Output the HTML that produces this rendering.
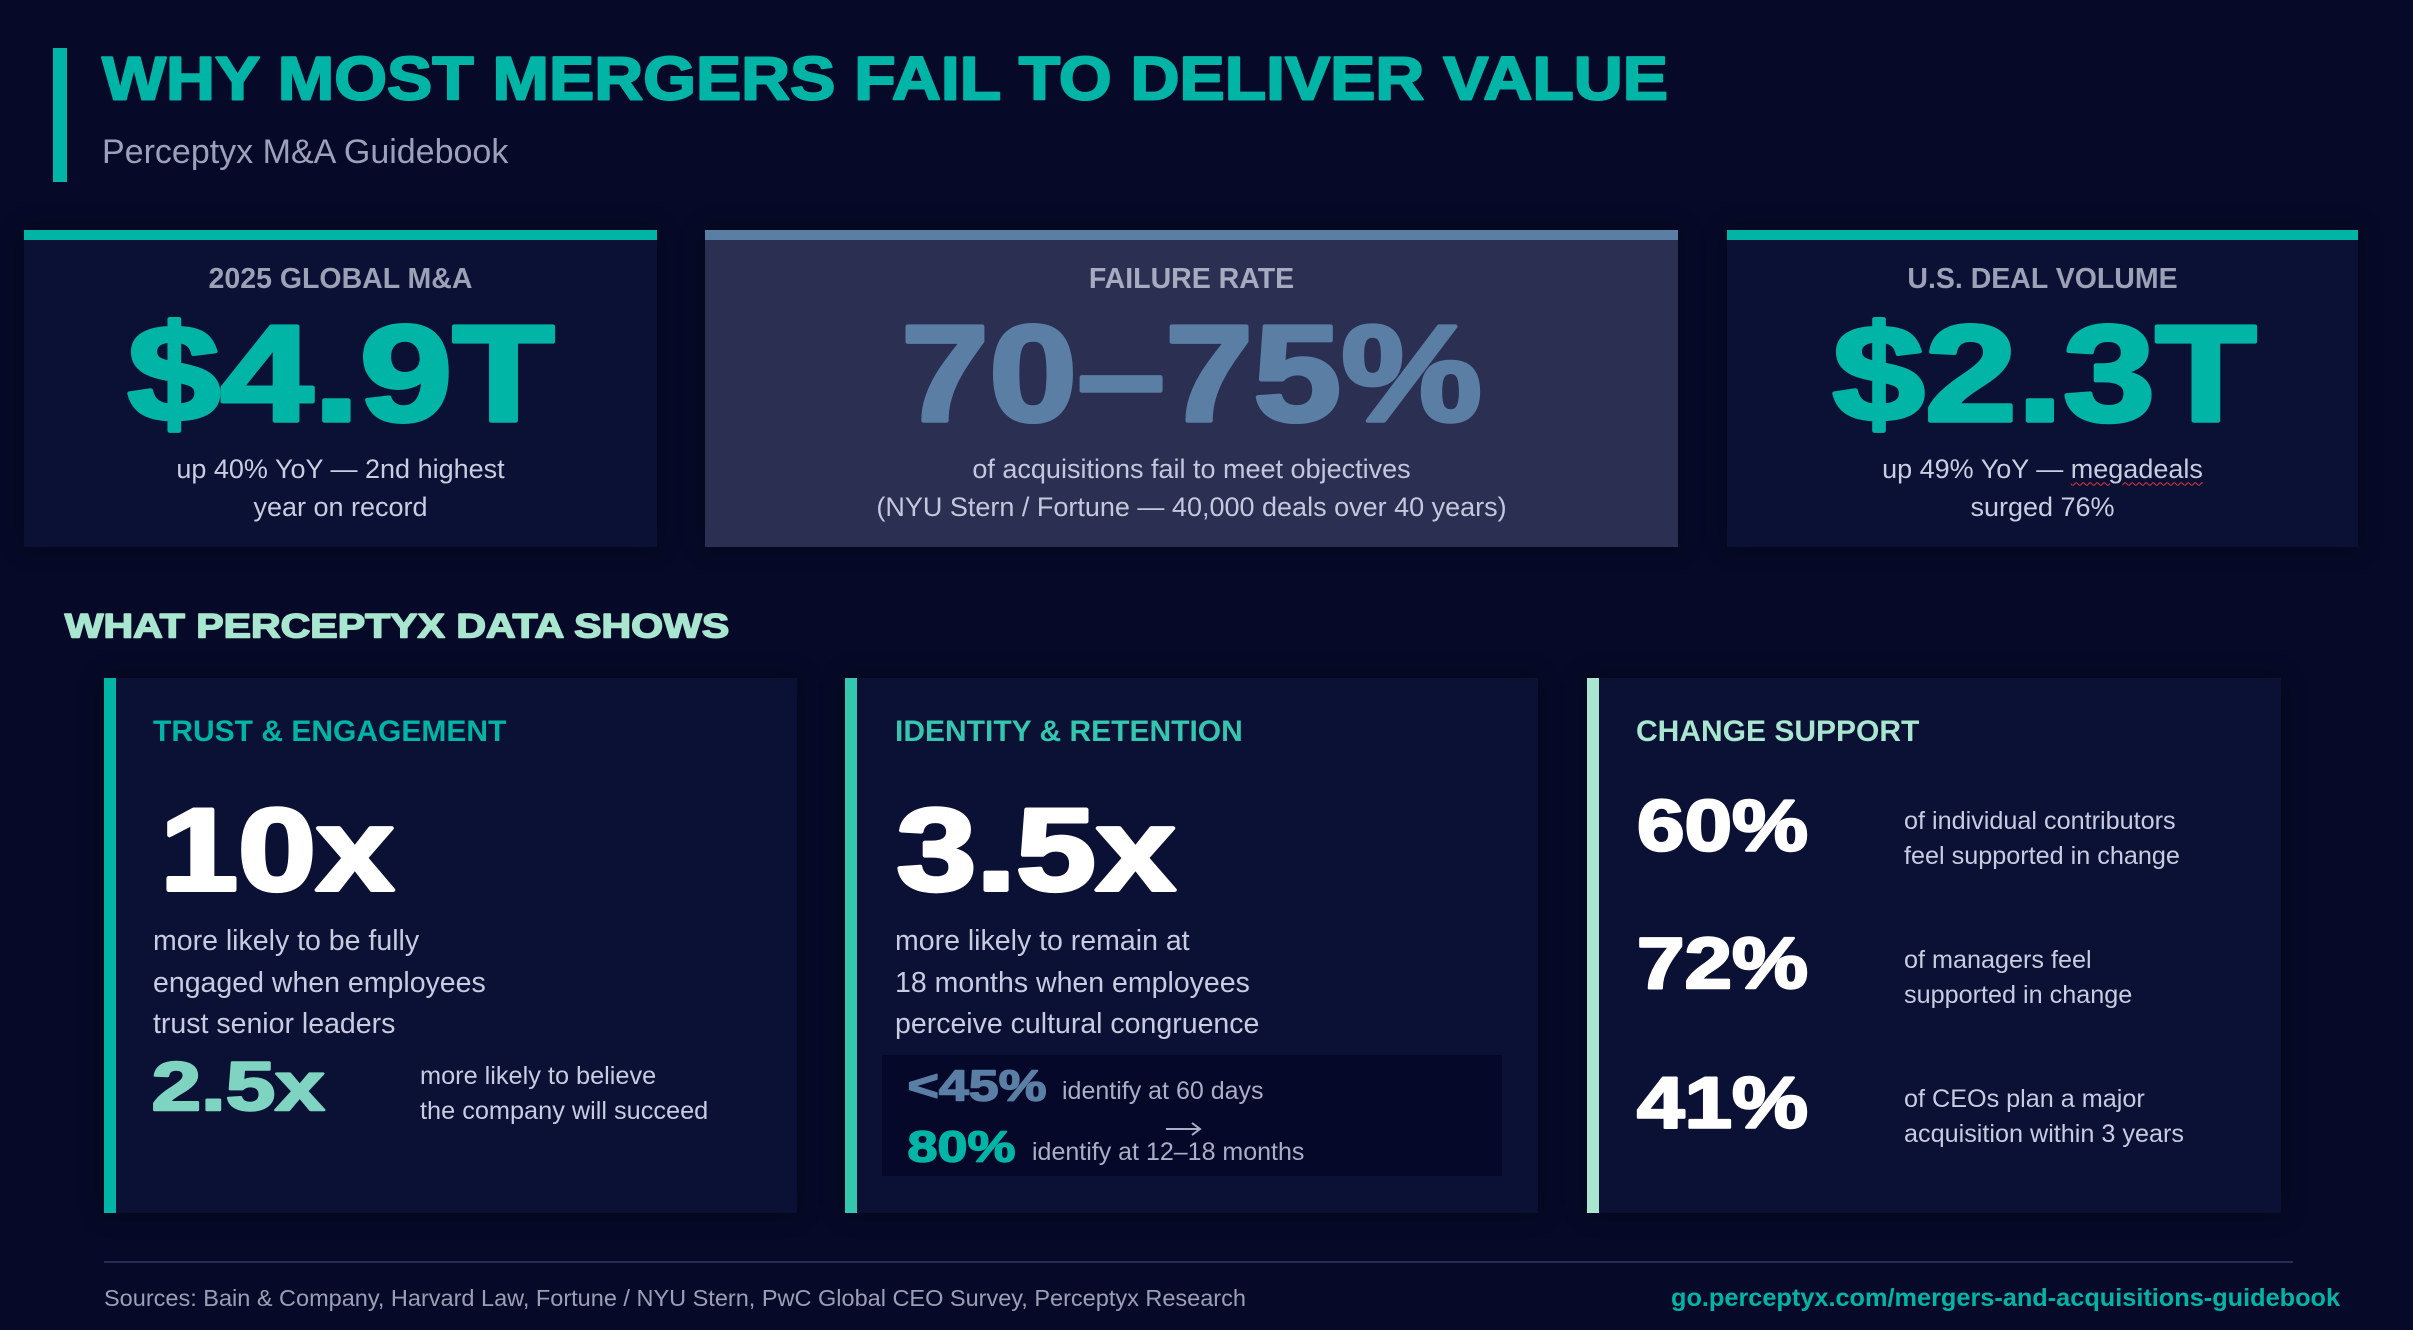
<!DOCTYPE html>
<html>
<head>
<meta charset="utf-8">
<style>
  html, body { margin:0; padding:0; }
  body { width:2413px; height:1330px; background:#060a28; position:relative; overflow:hidden;
         font-family:"Liberation Sans", Arial, sans-serif; }
  .a { position:absolute; }
  .t { position:absolute; white-space:nowrap; }
  .b { font-weight:bold; }
  .card { position:absolute; background:#0b1035; box-shadow:0 0 22px rgba(0,0,0,0.45); }
  .lbl { font-size:28.5px; line-height:28.5px; font-weight:bold; text-align:center; width:100%; left:0; top:34.6px; }
  .sub { font-size:27px; line-height:38px; text-align:center; width:100%; left:0; top:219.6px; color:#c9cde0; }
  .ctitle { font-size:30px; line-height:30px; font-weight:bold; }
  .desc { font-size:28.5px; line-height:41.5px; color:#c8cce0; }
  .cs-desc { font-size:25.2px; line-height:35px; color:#c8cce0; }
  svg.ov { position:absolute; left:0; top:0; }
  svg.ov text { font-family:"Liberation Sans", Arial, sans-serif; font-weight:bold; stroke-linejoin:round; }
</style>
</head>
<body>

<!-- Header -->
<div class="a" style="left:53px; top:48px; width:14px; height:134px; background:#00b4a6;"></div>
<div class="t" style="left:102px; top:134.7px; font-size:34px; line-height:34px; color:#9ba1b8;">Perceptyx M&amp;A Guidebook</div>

<!-- Top cards -->
<div class="card" style="left:24px; top:230px; width:633px; height:317px;">
  <div class="a" style="left:0; top:0; width:100%; height:10px; background:#00b4a6;"></div>
  <div class="t lbl" style="color:#9ca1b5;">2025 GLOBAL M&amp;A</div>
  <div class="t sub">up 40% YoY — 2nd highest<br>year on record</div>
</div>

<div class="card" style="left:705px; top:230px; width:973px; height:317px; background:#2b3053;">
  <div class="a" style="left:0; top:0; width:100%; height:10px; background:#5b7ea5;"></div>
  <div class="t lbl" style="color:#a6abc0;">FAILURE RATE</div>
  <div class="t sub" style="color:#c3c8dc;">of acquisitions fail to meet objectives<br>(NYU Stern / Fortune — 40,000 deals over 40 years)</div>
</div>

<div class="card" style="left:1727px; top:230px; width:631px; height:317px;">
  <div class="a" style="left:0; top:0; width:100%; height:10px; background:#00b4a6;"></div>
  <div class="t lbl" style="color:#9ca1b5;">U.S. DEAL VOLUME</div>
  <div class="t sub">up 49% YoY — <span style="text-decoration:underline wavy #e03a3a; text-decoration-thickness:1px; text-underline-offset:4px;">megadeals</span><br>surged 76%</div>
</div>

<!-- Card A -->
<div class="card" style="left:104px; top:678px; width:693px; height:535px;">
  <div class="a" style="left:0; top:0; width:12px; height:100%; background:#00b4a6;"></div>
</div>
<div class="t ctitle" style="left:153px; top:717.2px; color:#00b4a6;">TRUST &amp; ENGAGEMENT</div>
<div class="t desc" style="left:153px; top:921.4px;">more likely to be fully<br>engaged when employees<br>trust senior leaders</div>
<div class="t" style="left:420px; top:1058.7px; font-size:25.3px; line-height:35px; color:#c8cce0;">more likely to believe<br>the company will succeed</div>

<!-- Card B -->
<div class="card" style="left:845px; top:678px; width:693px; height:535px;">
  <div class="a" style="left:0; top:0; width:12px; height:100%; background:#34c6ae;"></div>
</div>
<div class="t ctitle" style="left:895px; top:717.2px; color:#34c6ae;">IDENTITY &amp; RETENTION</div>
<div class="t desc" style="left:895px; top:921.4px;">more likely to remain at<br>18 months when employees<br>perceive cultural congruence</div>
<div class="a" style="left:882px; top:1055px; width:620px; height:121px; background:#050828;"></div>
<div class="t" style="left:1062px; top:1079.4px; font-size:25px; line-height:25px; color:#a9afc4;">identify at 60 days</div>
<svg class="a" style="left:1164px; top:1121px;" width="40" height="16" viewBox="0 0 40 16">
  <line x1="2" y1="8" x2="36" y2="8" stroke="#a9afc4" stroke-width="2"/>
  <polyline points="28,2 36,8 28,14" fill="none" stroke="#a9afc4" stroke-width="2"/>
</svg>
<div class="t" style="left:1032px; top:1139.9px; font-size:25px; line-height:25px; color:#a9afc4;">identify at 12–18 months</div>

<!-- Card C -->
<div class="card" style="left:1587px; top:678px; width:694px; height:535px;">
  <div class="a" style="left:0; top:0; width:12px; height:100%; background:#a8e6cf;"></div>
</div>
<div class="t ctitle" style="left:1636px; top:717.2px; color:#a8e6cf;">CHANGE SUPPORT</div>
<div class="t cs-desc" style="left:1904px; top:803.8px;">of individual contributors<br>feel supported in change</div>
<div class="t cs-desc" style="left:1904px; top:942.8px;">of managers feel<br>supported in change</div>
<div class="t cs-desc" style="left:1904px; top:1081.5px;">of CEOs plan a major<br>acquisition within 3 years</div>

<!-- Footer -->
<div class="a" style="left:104px; top:1261px; width:2189px; height:2px; background:#262b50;"></div>
<div class="t" style="left:104px; top:1286.8px; font-size:23.5px; line-height:23.5px; color:#9aa0b4;">Sources: Bain &amp; Company, Harvard Law, Fortune / NYU Stern, PwC Global CEO Survey, Perceptyx Research</div>
<div class="t b" style="left:1671px; top:1285.6px; font-size:25.3px; line-height:25.3px; color:#00b4a6;">go.perceptyx.com/mergers-and-acquisitions-guidebook</div>

<!-- Heavy display text overlay -->
<svg class="ov" width="2413" height="1330" viewBox="0 0 2413 1330">
  <!-- Title -->
  <text x="102" y="99.5" font-size="61" fill="#00b4a6" stroke="#00b4a6" stroke-width="2" textLength="1566" lengthAdjust="spacingAndGlyphs">WHY MOST MERGERS FAIL TO DELIVER VALUE</text>
  <!-- Section heading -->
  <text x="64.75" y="637.25" font-size="34" fill="#a8e6cf" stroke="#a8e6cf" stroke-width="1.5" textLength="664.5" lengthAdjust="spacingAndGlyphs">WHAT PERCEPTYX DATA SHOWS</text>

  <!-- Top big numbers -->
  <text x="341" y="420.7" font-size="137" text-anchor="middle" fill="#00b4a6" stroke="#00b4a6" stroke-width="4" textLength="427" lengthAdjust="spacingAndGlyphs">$4.9T</text>
  <text x="1191.5" y="420.7" font-size="137" text-anchor="middle" fill="#5b7ea5" stroke="#5b7ea5" stroke-width="4" textLength="581" lengthAdjust="spacingAndGlyphs">70–75%</text>
  <text x="2044.5" y="420.7" font-size="137" text-anchor="middle" fill="#00b4a6" stroke="#00b4a6" stroke-width="4" textLength="424" lengthAdjust="spacingAndGlyphs">$2.3T</text>

  <!-- Card A -->
  <text x="160" y="890" font-size="117" fill="#ffffff" stroke="#ffffff" stroke-width="4" textLength="234" lengthAdjust="spacingAndGlyphs">10x</text>
  <text x="151.6" y="1109.75" font-size="69" fill="#7fd4c1" stroke="#7fd4c1" stroke-width="2.5" textLength="173" lengthAdjust="spacingAndGlyphs">2.5x</text>

  <!-- Card B -->
  <text x="896.5" y="890" font-size="117" fill="#ffffff" stroke="#ffffff" stroke-width="4" textLength="279" lengthAdjust="spacingAndGlyphs">3.5x</text>
  <text x="907.5" y="1100.25" font-size="44" fill="#5b7ea5" stroke="#5b7ea5" stroke-width="1.5" textLength="139" lengthAdjust="spacingAndGlyphs">&lt;45%</text>
  <text x="907.5" y="1161.25" font-size="44" fill="#00b4a6" stroke="#00b4a6" stroke-width="1.5" textLength="108" lengthAdjust="spacingAndGlyphs">80%</text>

  <!-- Card C -->
  <text x="1637" y="850.35" font-size="72.8" fill="#ffffff" stroke="#ffffff" stroke-width="2.5" textLength="171" lengthAdjust="spacingAndGlyphs">60%</text>
  <text x="1637" y="988.15" font-size="72.8" fill="#ffffff" stroke="#ffffff" stroke-width="2.5" textLength="171" lengthAdjust="spacingAndGlyphs">72%</text>
  <text x="1637" y="1127.45" font-size="72.8" fill="#ffffff" stroke="#ffffff" stroke-width="2.5" textLength="171" lengthAdjust="spacingAndGlyphs">41%</text>
</svg>

</body>
</html>
